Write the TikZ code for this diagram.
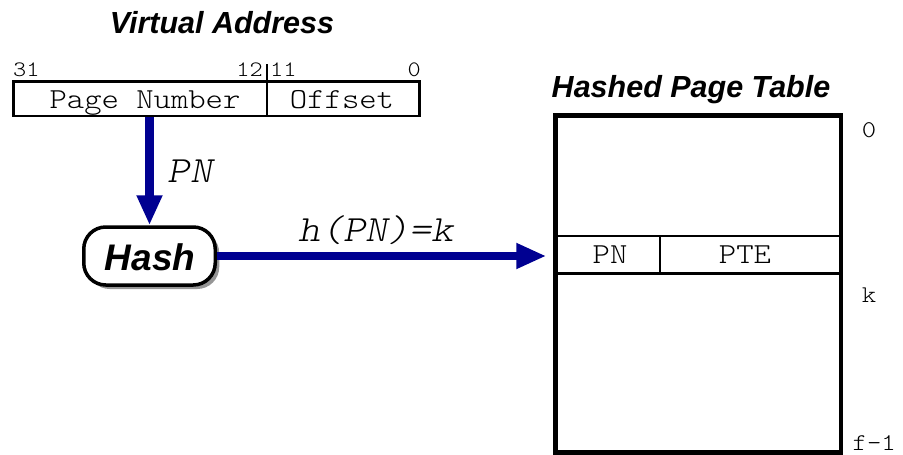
\documentclass[tikz,border=0pt]{standalone}
\usepackage{fontspec}
\newfontfamily\sansf{Liberation Sans}
\newfontfamily\monof{lmmonolt10-regular.otf}[ItalicFont=lmmonolt10-oblique.otf, FakeStretch=1.14]
\usetikzlibrary{arrows.meta,shadows}
\definecolor{arrowblue}{RGB}{0,0,145}
\definecolor{shadowgray}{RGB}{150,150,150}
\begin{document}
\begin{tikzpicture}[x=1pt,y=-1pt,
  title/.style={font=\sansf\bfseries\itshape\fontsize{30.5}{33}\selectfont, inner sep=0pt, anchor=base},
  mono/.style={font=\monof\fontsize{29}{32}\selectfont, inner sep=0pt},
  bitlbl/.style={font=\monof\fontsize{22}{24}\selectfont, inner sep=0pt},
  idx/.style={font=\monof\fontsize{24}{26}\selectfont, inner sep=0pt},
  ilbl/.style={font=\monof\itshape\fontsize{37}{40}\selectfont, inner sep=0pt, anchor=base},
  bigarrow/.style={draw=arrowblue, line width=8.5pt, -{Triangle[length=30pt,width=24pt]}, arrowblue},
  hashbox/.style={draw=black, fill=white, line width=3.5pt, rounded corners=22pt,
    minimum width=131.5pt, minimum height=58pt, inner sep=0pt,
    drop shadow={shadow xshift=4pt, shadow yshift=-4pt, fill=shadowgray, opacity=1}},
  field/.style={draw=black, inner sep=0pt}
]
\useasboundingbox (0,0) rectangle (903,455);

% Virtual address
\node[title] (vatitle) at (222,33) {Virtual Address};
\node[field, line width=2.7pt, minimum width=406pt, minimum height=34.5pt] (va) at (216.5,98.75) {};
\node[mono, anchor=base] (pnum) at (145,108) {Page Number};
\node[mono, anchor=base] (off) at (342,108) {Offset};
\draw[line width=1.3pt] (267,64) -- (267,116);
\node[bitlbl, anchor=west] (b31) at (13,70) {31};
\node[bitlbl, anchor=east] (b12) at (263,70) {12};
\node[bitlbl, anchor=west] (b11) at (270,70) {11};
\node[bitlbl, anchor=east] (b0) at (421,70) {0};

% Hash
\node[hashbox] (hash) at (149.5,256) {};
\node[font=\sansf\bfseries\itshape\fontsize{37}{40}\selectfont, inner sep=0pt, anchor=base] (hashtxt) at (150,270) {Hash};
\node[ilbl] (pnlbl) at (190,182) {PN};
\node[ilbl] (hk) at (376.5,241.5) {h(PN)=k};

% Hashed page table
\node[title] (hpttitle) at (691,97) {Hashed Page Table};
\node[field, line width=4.5pt, minimum width=285.5pt, minimum height=337pt] (hpt) at (698.25,284) {};
\node[field, line width=2.5pt, minimum width=285.5pt, minimum height=37.5pt] (row) at (698.25,254.75) {};
\draw[line width=1.3pt] (660,236) -- (660,273.5);
\node[mono] (rpn) at (610,255) {PN};
\node[mono] (rpte) at (745,255) {PTE};
\node[idx] (i0) at (869,130) {0};
\node[idx] (ik) at (869,295) {k};
\node[idx, anchor=east] (if) at (896,443) {f-1};

% connectors
\draw[bigarrow] (va.south -| hash.north) -- (hash.north);
\draw[bigarrow, shorten >=7pt] (hash.east) -- (hpt.west |- hash.east);
\end{tikzpicture}
\end{document}
